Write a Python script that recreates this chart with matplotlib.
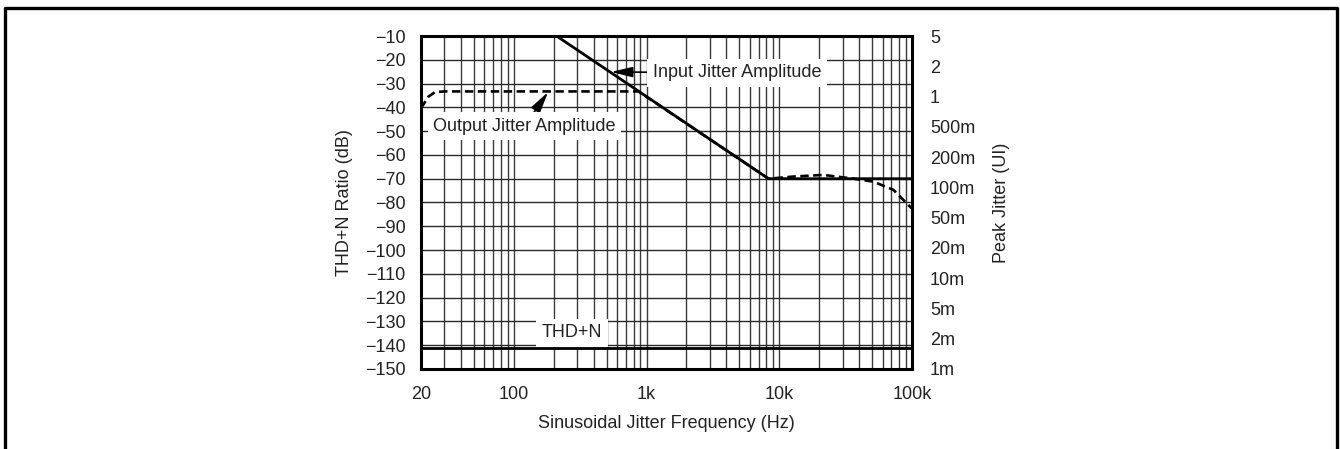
import numpy as np
import matplotlib
matplotlib.use('Agg')
import matplotlib.pyplot as plt
from matplotlib.lines import Line2D

plt.rcParams['font.family'] = ['Liberation Sans', 'DejaVu Sans']
plt.rcParams['font.size'] = 13

# Input jitter amplitude (solid line), Hz / dB
input_freq = [210, 8300, 100000]
input_db = [-10, -70, -70]

# Output jitter amplitude (dashed line), Hz / dB
output_freq = [20, 22.7, 25.5, 30, 870, 8300, 12700, 21500, 34200, 51000, 72500, 100000]
output_db = [-40.4, -35.5, -33.6, -33.3, -33.3, -70, -69.1, -68.4, -69.8, -71.2, -74.7, -82.6]

# THD+N floor
thdn_freq = [20, 100000]
thdn_db = [-141.3, -141.3]

# axes ticks
x_major = [20, 100, 1000, 10000, 100000]
x_major_labels = ['20', '100', '1k', '10k', '100k']
x_minor = [30, 40, 50, 60, 70, 80, 90, 200, 300, 400, 500, 600, 700, 800, 900,
           2000, 3000, 4000, 5000, 6000, 7000, 8000, 9000,
           20000, 30000, 40000, 50000, 60000, 70000, 80000, 90000]
y_ticks = np.arange(-150, -9, 10)
right_labels = ['1m', '2m', '5m', '10m', '20m', '50m', '100m', '200m', '500m', '1', '2', '5']

fig = plt.figure(figsize=(13.4, 4.49), dpi=100)
ax = fig.add_axes([0.3142, 0.1782, 0.3664, 0.7416])

ax.plot(input_freq, input_db, color='black', lw=2.0, solid_capstyle='butt', zorder=4)
ax.plot(output_freq, output_db, color='black', lw=1.9, linestyle=(0, (3.2, 1.7)), zorder=4)
ax.plot(thdn_freq, thdn_db, color='black', lw=2.0, zorder=4)

ax.set_xscale('log')
ax.set_xlim(20, 100000)
ax.set_ylim(-150, -10)
ax.set_xticks(x_major)
ax.set_xticklabels(x_major_labels)
ax.set_xticks(x_minor, minor=True)
ax.xaxis.set_minor_formatter(plt.NullFormatter())
ax.set_yticks(y_ticks)
ax.grid(True, which='both', axis='x', color='#3a3a3a', lw=1.0)
ax.grid(True, which='major', axis='y', color='#2a2a2a', lw=1.0)
ax.tick_params(which='both', length=0)
ax.tick_params(axis='x', pad=12, labelcolor='#222222')
ax.tick_params(axis='y', pad=11, labelcolor='#222222')
for s in ax.spines.values():
    s.set_linewidth(2.2)
ax.set_xlabel('Sinusoidal Jitter Frequency (Hz)', labelpad=9, color='#222222')
ax.set_ylabel('THD+N Ratio (dB)', labelpad=9, color='#222222')

# right-hand peak jitter scale
ax2 = ax.twinx()
ax2.set_ylim(0, len(right_labels) - 1)
ax2.set_yticks(range(len(right_labels)))
ax2.set_yticklabels(right_labels)
ax2.tick_params(length=0, pad=13, labelcolor='#222222')
for s in ax2.spines.values():
    s.set_visible(False)
ax2.set_ylabel('Peak Jitter (UI)', labelpad=13, color='#222222')

box = dict(boxstyle='square,pad=0.3', fc='white', ec='none')
arrow = dict(arrowstyle='-|>,head_length=1.0,head_width=0.24', color='black', lw=1.2,
             shrinkA=0, shrinkB=0)
ax.annotate('Input Jitter Amplitude', xy=(540, -25.1), xytext=(4810, -25.5),
            ha='center', va='center', bbox=box, arrowprops=arrow, color='#222222', zorder=5)
ax.annotate('Output Jitter Amplitude', xy=(181, -33.6), xytext=(120, -48.0),
            ha='center', va='center', bbox=box, arrowprops=arrow, color='#222222', zorder=5)
ax.text(274, -134.8, 'THD+N', ha='center', va='center', bbox=box, color='#222222', zorder=5)

# outer frame (open at the bottom)
fx = [0.0037, 0.0037, 0.9978, 0.9978]
fy = [0.0, 0.982, 0.982, 0.0]
fig.add_artist(Line2D(fx, fy, color='black', lw=2.4, transform=fig.transFigure))

fig.savefig('out.png', dpi=100)
